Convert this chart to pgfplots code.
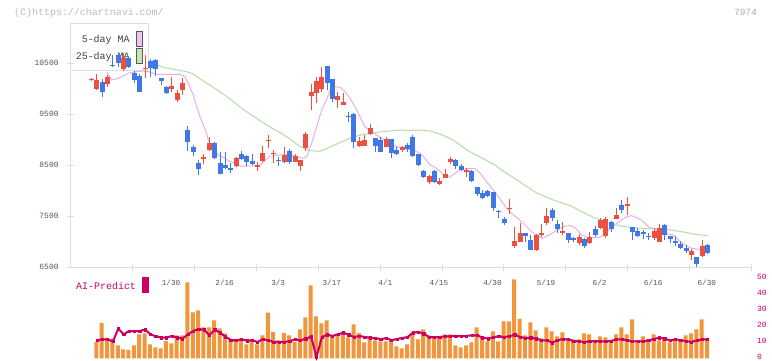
\documentclass[border=0pt]{standalone}
\usepackage{fontspec}
\setmainfont{Liberation Mono}
\usepackage{pgfplots}
\usepackage{pgfplotstable}
\pgfplotsset{compat=1.18}

\definecolor{upcol}{HTML}{EE5040}
\definecolor{downcol}{HTML}{4078E8}
\definecolor{maA}{HTML}{E6B0E6}
\definecolor{maB}{HTML}{B4DCA4}
\definecolor{maAfill}{HTML}{EEC4EE}
\definecolor{maBfill}{HTML}{C4E4B4}
\definecolor{volcol}{HTML}{F0963C}
\definecolor{aicol}{HTML}{CC0060}
\definecolor{axiscol}{HTML}{DDDDDD}
\definecolor{labcol}{HTML}{555555}

% daily candles: index, open, high, low, close
\pgfplotstableread{
i open high low close
0 10170 10210 10150 10190
1 9985 10285 9970 10165
2 10120 10185 9830 9940
3 10090 10270 10035 10230
4 10460 10650 10430 10440
5 10655 10690 10430 10505
6 10375 10690 10345 10600
7 10590 10635 10395 10430
8 10310 10350 10105 10165
9 10245 10290 9940 9940
10 10385 10655 10200 10405
11 10540 10580 10220 10395
12 10560 10580 10240 10375
13 10200 10210 10060 10150
14 10035 10050 9890 9920
15 9990 10220 9925 10050
16 9775 9970 9740 9905
17 9970 10205 9875 10100
18 9190 9265 8785 8960
19 8860 8895 8680 8765
20 8550 8600 8305 8425
21 8625 8720 8520 8655
22 8795 9045 8775 8940
23 8940 8945 8620 8635
24 8550 8750 8325 8325
25 8505 8765 8425 8440
26 8450 8535 8340 8405
27 8485 8660 8470 8635
28 8720 8785 8600 8615
29 8680 8700 8485 8570
30 8580 8710 8505 8520
31 8465 8570 8390 8505
32 8580 8875 8570 8730
33 8980 9090 8830 9000
34 8710 8800 8550 8730
35 8595 8665 8485 8575
36 8570 8860 8550 8700
37 8775 8815 8520 8570
38 8570 8725 8570 8680
39 8485 8600 8390 8600
40 8830 9150 8785 9110
41 9855 10090 9580 9940
42 9920 10230 9725 10150
43 9985 10415 9940 10225
44 10440 10440 9970 10100
45 10185 10185 9740 9800
46 9775 9940 9615 9855
47 9680 9920 9680 9735
48 9455 9545 9350 9435
49 9500 9525 8830 8960
50 8875 9055 8850 8975
51 8875 9090 8875 8990
52 9110 9305 9090 9220
53 9040 9040 8765 8875
54 8990 9055 8765 8765
55 8850 9055 8850 9010
56 9010 9010 8635 8730
57 8795 8850 8700 8720
58 8795 8875 8765 8860
59 8895 8925 8765 8810
60 9055 9090 8665 8685
61 8720 8720 8485 8505
62 8385 8405 8255 8275
63 8175 8305 8125 8285
64 8385 8405 8155 8175
65 8130 8240 8110 8190
66 8240 8425 8240 8320
67 8570 8660 8520 8625
68 8600 8620 8425 8490
69 8490 8520 8390 8405
70 8370 8440 8275 8410
71 8385 8405 8175 8195
72 8080 8080 7900 7935
73 7960 8020 7845 7865
74 7995 8015 7885 7900
75 7970 7970 7600 7665
76 7605 7620 7460 7585
77 7445 7490 7330 7375
78 7645 7830 7545 7665
79 6925 7295 6870 7015
80 6995 7375 6995 7180
81 7180 7180 6990 7120
82 7035 7130 6840 6840
83 6840 7145 6820 7130
84 7130 7345 7100 7180
85 7365 7655 7330 7510
86 7620 7655 7400 7470
87 7345 7430 7180 7245
88 7180 7390 7140 7210
89 7165 7165 6985 7030
90 7065 7100 6990 7030
91 6970 7145 6945 7095
92 7060 7080 6870 6915
93 6975 7190 6950 7095
94 7250 7310 7085 7130
95 7275 7460 7250 7425
96 7120 7490 7065 7445
97 7380 7405 7200 7250
98 7450 7655 7450 7525
99 7720 7825 7555 7620
100 7695 7880 7525 7745
101 7295 7295 7035 7195
102 7210 7275 7100 7120
103 7195 7230 7055 7150
104 7120 7165 7030 7085
105 7075 7265 7030 7215
106 6990 7340 6990 7265
107 7330 7345 7040 7130
108 7120 7120 6975 7055
109 7015 7120 6915 6970
110 6950 7015 6850 6870
111 6885 6935 6775 6825
112 6740 6850 6645 6820
113 6705 6705 6510 6565
114 6725 7035 6705 6925
115 6935 6955 6760 6785
}\ohlc

% 5-day moving average
\pgfplotstableread{
i p
2.84 10330
3.77 10167
5.0 10200
5.94 10245
6.87 10298
7.5 10318
9.37 10343
10.6 10330
11.54 10298
12.47 10279
13.72 10279
15.27 10279
16.52 10279
17.45 10232
18.07 10103
19.0 9873
19.64 9644
20.25 9449
20.87 9286
21.5 9124
21.8 8992
22.74 8797
23.67 8699
24.6 8654
25.54 8587
26.47 8548
27.72 8483
29.59 8483
31.45 8503
33.32 8679
35.19 8699
37.05 8699
38.55 8665
39.48 8634
40.17 8665
41.1 8928
42.04 9253
42.97 9580
43.9 9776
44.52 9971
45.45 10036
46.39 10024
47.32 9938
48.25 9809
49.19 9644
50.12 9449
51.05 9253
51.99 9174
52.92 9110
53.85 9045
54.79 8992
55.72 8959
56.65 8875
57.59 8842
58.52 8830
60.07 8797
61.32 8732
62.25 8634
63.19 8503
64.12 8460
65.05 8385
65.99 8268
66.92 8268
67.85 8346
68.79 8405
70.04 8434
70.97 8438
71.59 8434
72.52 8346
73.77 8176
75.0 8013
76.26 7837
77.19 7700
78.12 7583
79.37 7475
80.6 7361
82.17 7197
84.04 7064
85.27 7122
86.84 7220
88.07 7299
89.32 7318
90.26 7275
91.51 7132
92.74 7079
94.61 7079
95.86 7132
96.79 7263
98.34 7381
99.91 7491
100.84 7510
102.07 7459
103.0 7393
103.94 7295
105.19 7244
107.05 7166
108.6 7132
109.54 7034
110.79 6937
112.04 6872
113.27 6852
115 6858
}\maFive

% 25-day moving average
\pgfplotstableread{
i p
12.17 10461
14.04 10396
16.15 10363
17.77 10330
19.0 10285
20.25 10187
22.12 10069
23.99 9938
25.48 9825
27.72 9638
29.59 9501
31.45 9374
33.32 9247
35.19 9139
37.05 9012
38.92 8865
40.79 8783
42.65 8771
44.52 8855
46.39 8943
48.25 9026
50.12 9090
51.99 9124
53.85 9149
55.72 9169
57.59 9188
59.46 9178
61.32 9188
63.19 9169
65.05 9110
67.54 8992
70.04 8797
72.52 8659
75.0 8522
77.51 8340
79.99 8170
83.11 7955
86.21 7818
89.32 7710
92.12 7557
93.99 7465
96.79 7357
99.59 7295
101.46 7275
103.94 7256
107.05 7244
110.17 7197
112.64 7146
115 7119
}\maTwentyFive

% volume and AI-Predict score per day
\pgfplotstableread{
i vol ai
1 10.2 11.25
2 22.1 11.9
3 12.3 11.7
4 12.3 10.6
5 8.1 18.5
6 5.6 15
7 5.2 17.1
8 8.1 16.9
9 15 17.1
10 15.6 17.9
11 8.75 15
12 6.9 13.75
13 6.25 12.9
14 10.8 12.9
15 9.4 14
16 14.4 12.9
17 14.4 12.3
18 47.5 15
19 28.75 17.1
20 30 18.3
21 19.4 17.9
22 19.4 14.4
23 23.75 17.9
24 18.75 16
25 15.6 13.5
26 10.8 11.5
27 10.8 11.25
28 11.9 11.9
29 8.75 11
30 11.9 11.25
31 8.75 10.2
32 14.4 12
33 28.5 11.25
34 16.5 10.2
35 11.25 10.2
36 15.8 10.2
37 14.4 10.8
38 10.2 11.7
39 18.1 11.25
40 25.6 12.3
41 45.6 13.5
42 26.25 0.8
43 21.9 13.3
44 23.75 14.8
45 14.4 14
46 14.4 15
47 15.8 16
48 13.1 14.8
49 21.25 13.3
50 15.8 14
51 10 13.3
52 13.75 12.9
53 11.25 12.7
54 10.6 11.9
55 10.6 12.7
56 11.9 11.25
57 7.5 12.1
58 6.25 12.7
59 8.75 13.3
60 15 16
61 11.9 16.5
62 18.1 15.4
63 14.4 13.3
64 13.75 13.3
65 13.75 13.3
66 15 13.75
67 15 13.75
68 8.1 14
69 6.9 13.75
70 8.1 14
71 10 14.4
72 19.4 14.4
73 13.75 12.9
74 10.6 12.3
75 16.9 13.1
76 10.6 13.75
77 23.1 13.3
78 23.1 13.75
79 49.4 14.8
80 24.6 13.3
81 14.4 12.7
82 22.5 12.9
83 17.5 12.3
84 12.5 11.25
85 19.4 11.25
86 16.9 9.8
87 13.75 11.25
88 16.25 12.1
89 11.25 11.7
90 11.9 10.8
91 11.9 10.6
92 15.6 10.2
93 15 10.6
94 11.25 10.8
95 13.75 10.6
96 13.1 10.6
97 11.25 10.8
98 15 11.9
99 19.4 11.9
100 15 11.25
101 24.4 10.6
102 11.25 10.6
103 13.75 10.6
104 11.25 11.25
105 15 12.1
106 11.25 12.9
107 13.1 12.3
108 10 11.25
109 11.9 11.9
110 11.25 11.25
111 14.4 10.8
112 15.6 10.2
113 18.1 11.25
114 24.4 11.9
115 12.5 11.9
}\vol

\pgfplotsset{
  candle wick/.style 2 args={draw=none, mark=none, forget plot,
    x filter/.expression={(#1) ? x : nan},
    error bars/.cd, y dir=plus, y explicit, error mark=none,
    error bar style={line width=1bp, draw=#2}},
  candle body/.style 2 args={draw=none, mark=none, forget plot,
    x filter/.expression={(#1) ? x : nan},
    error bars/.cd, y dir=plus, y explicit, error mark=none,
    error bar style={line width=5bp, draw=#2}},
}

\begin{document}
\begin{tikzpicture}
\useasboundingbox (0bp,0bp) rectangle (772bp,361bp);

% header texts
\node[anchor=west, inner sep=0, text=black!27, font=\fontsize{10}{10}\selectfont] at (14bp,348.5bp) {(C)https://chartnavi.com/};
\node[anchor=east, inner sep=0, text=black!33, font=\fontsize{9.5}{10}\selectfont] at (757bp,348.5bp) {7974};

% legend of the moving averages
\draw[axiscol, line width=1bp] (70.3bp,337bp) rectangle (148.3bp,290bp);
\node[anchor=east, inner sep=0, text=black!75, font=\fontsize{10}{10}\selectfont] at (129.8bp,321bp) {5-day MA};
\node[anchor=east, inner sep=0, text=black!75, font=\fontsize{10}{10}\selectfont] at (129.8bp,304.3bp) {25-day MA};
\draw[black!65, fill=maAfill, line width=0.8bp] (136.2bp,329.8bp) rectangle (142.7bp,314.5bp);
\draw[black!65, fill=maBfill, line width=0.8bp] (136.2bp,312.7bp) rectangle (142.7bp,297.7bp);

% AI-Predict caption
\node[anchor=west, inner sep=0, text=aicol, font=\fontsize{10}{10}\selectfont] at (76bp,75bp) {AI-Predict};
\fill[aicol] (142.3bp,83.7bp) rectangle (149bp,68.3bp);

% price pane
\begin{axis}[
  at={(70.6bp,93.7bp)}, anchor=south west,
  scale only axis, width=680.9bp, height=243.1bp,
  xmin=-3.90, xmax=123.2, ymin=6500, ymax=11260,
  axis x line*=bottom, axis y line*=left,
  axis line style={draw=axiscol, line width=1bp},
  tick style={draw=axiscol, line width=1bp},
  tick align=center, major tick length=7bp,
  xtick={7.65,19.22,30.77,42.33,53.88,65.44,76.99,88.54,100.1,111.65,123.2},
  xticklabels={},
  extra x ticks={14.85,24.85,34.85,44.85,54.85,64.85,74.85,84.85,94.85,104.85,114.85},
  extra x tick labels={1/30,2/16,3/3,3/17,4/1,4/15,4/30,5/19,6/2,6/16,6/30},
  extra x tick style={major tick length=0pt,
    tick label style={font=\fontsize{7.7}{8}\selectfont, text=labcol, yshift=-9bp}},
  ytick={6500,7500,8500,9500,10500},
  scaled y ticks=false,
  yticklabel style={font=\fontsize{8}{8}\selectfont, text=labcol, xshift=-5bp},
  /pgf/number format/assume math mode=true,
  /pgf/number format/1000 sep={},
  clip=false,
]
\addplot[maA, line width=1bp, mark=none] table[x=i, y=p]{\maFive};
\addplot[maB, line width=1bp, mark=none] table[x=i, y=p]{\maTwentyFive};

% rising days
\addplot[candle wick={\thisrow{close}>\thisrow{open}}{upcol}]
  table[x=i, y=low, y error plus expr={\thisrow{high}-\thisrow{low}}]{\ohlc};
\addplot[candle body={\thisrow{close}>\thisrow{open}}{upcol}]
  table[x=i, y=open, y error plus expr={\thisrow{close}-\thisrow{open}}]{\ohlc};
% falling days
\addplot[candle wick={\thisrow{close}<\thisrow{open}}{downcol}]
  table[x=i, y=low, y error plus expr={\thisrow{high}-\thisrow{low}}]{\ohlc};
\addplot[candle body={\thisrow{close}<\thisrow{open}}{downcol}]
  table[x=i, y=close, y error plus expr={\thisrow{open}-\thisrow{close}}]{\ohlc};
\end{axis}

% volume pane with the AI-Predict line
\begin{axis}[
  at={(70.6bp,2.7bp)}, anchor=south west,
  scale only axis, width=680.9bp, height=80bp,
  xmin=-3.90, xmax=123.2, ymin=0, ymax=50,
  axis x line=none, axis y line*=right,
  y axis line style={draw=none},
  major tick length=0pt,
  ytick={0,10,20,30,40,50},
  yticklabel style={font=\fontsize{8}{8}\selectfont, text=aicol, anchor=west, xshift=2bp, yshift=1.2bp},
  /pgf/number format/assume math mode=true,
  clip=false,
]
\addplot[ybar, bar width=4bp, bar shift=-0.5bp, fill=volcol, draw=none] table[x=i, y=vol]{\vol};
\addplot[aicol, line width=2bp, sharp plot, mark=square*, mark size=1.1bp,
  mark options={line width=0.4bp}] table[x=i, y=ai]{\vol};
\end{axis}
\end{tikzpicture}
\end{document}
